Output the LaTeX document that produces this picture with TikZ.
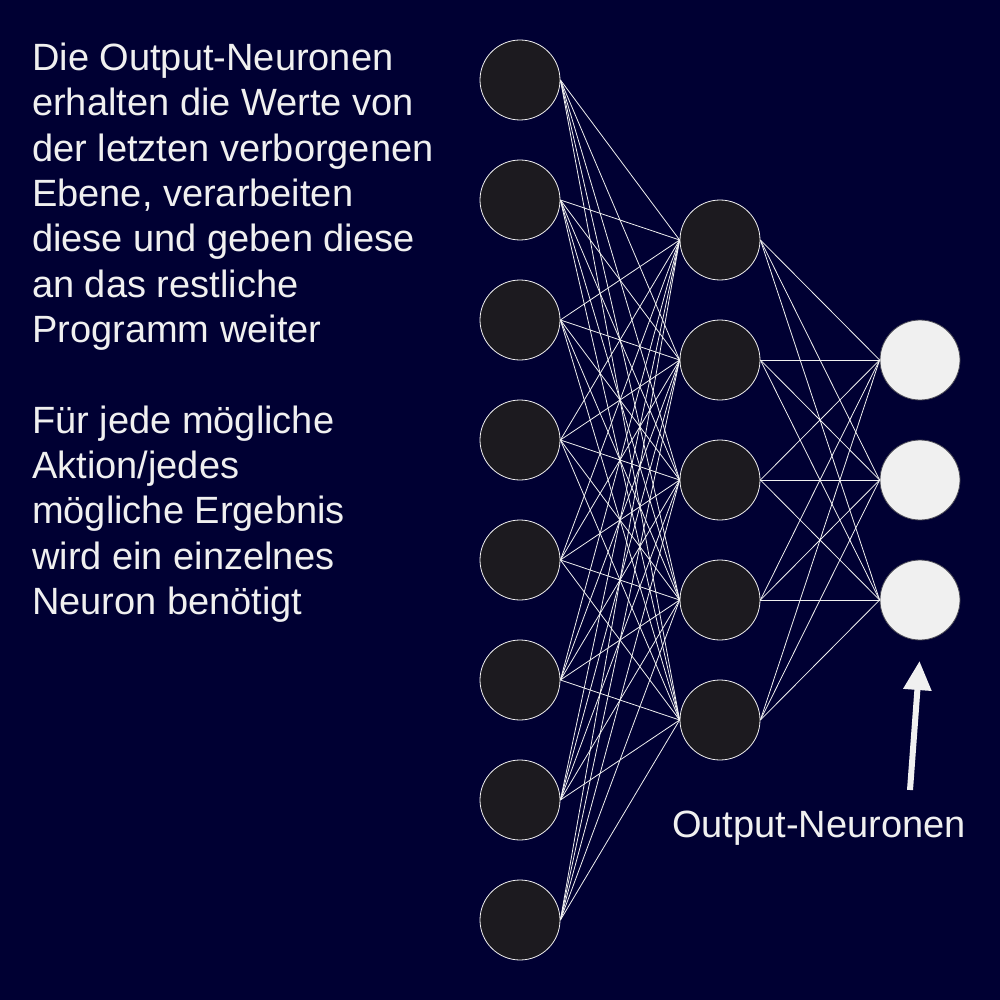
\documentclass[tikz,border=0pt]{standalone}
\usepackage{fontspec}
\setmainfont{Liberation Sans}
\usetikzlibrary{arrows.meta}
\definecolor{bgnavy}{HTML}{000033}
\definecolor{neurfill}{HTML}{1C1A1F}
\definecolor{lightg}{HTML}{F0F0F0}
\definecolor{outline}{HTML}{4A4A55}
\begin{document}
\begin{tikzpicture}[x=1pt,y=-1pt,
  neuron/.style={circle, minimum size=80pt, inner sep=0pt, draw=lightg, line width=0.8pt, fill=neurfill},
  outneuron/.style={neuron, fill=lightg, draw=outline},
  link/.style={draw=lightg, line width=0.8pt},
  txt/.style={anchor=base west, inner sep=0pt, text=lightg, font=\fontsize{38}{45}\selectfont}]
\fill[bgnavy] (0,0) rectangle (1000,1000);
\useasboundingbox (0,0) rectangle (1000,1000);
% neurons
\foreach \i in {1,...,8} \node[neuron] (i\i) at (520,{80+120*(\i-1)}) {};
\foreach \j in {1,...,5} \node[neuron] (h\j) at (720,{240+120*(\j-1)}) {};
\foreach \k in {1,...,3} \node[outneuron] (o\k) at (920,{360+120*(\k-1)}) {};
% connections
\foreach \i in {1,...,8} \foreach \j in {1,...,5} \draw[link] (i\i.east) -- (h\j.west);
\foreach \j in {1,...,5} \foreach \k in {1,...,3} \draw[link] (h\j.east) -- (o\k.west);
% arrow
\coordinate (atail) at (910,790);
\coordinate (ahead) at (919.5,661);
\draw[lightg, line width=6pt, -{Triangle[length=29pt,width=27pt]}] (atail) -- (ahead);
\node[txt] (lbl) at (672,837) {Output-Neuronen};
% text block
\node[txt] (t1) at (32,70.7) {Die Output-Neuronen};
\node[txt] (t2) at (32,116) {erhalten die Werte von};
\node[txt] (t3) at (32,161.3) {der letzten verborgenen};
\node[txt] (t4) at (32,206.6) {Ebene, verarbeiten};
\node[txt] (t5) at (32,251.9) {diese und geben diese};
\node[txt] (t6) at (32,297.2) {an das restliche};
\node[txt] (t7) at (32,342.5) {Programm weiter};
\node[txt] (t8) at (32,433.1) {Für jede mögliche};
\node[txt] (t9) at (32,478.4) {Aktion/jedes};
\node[txt] (t10) at (32,523.7) {mögliche Ergebnis};
\node[txt] (t11) at (32,569) {wird ein einzelnes};
\node[txt] (t12) at (32,614.3) {Neuron benötigt};
\end{tikzpicture}
\end{document}
